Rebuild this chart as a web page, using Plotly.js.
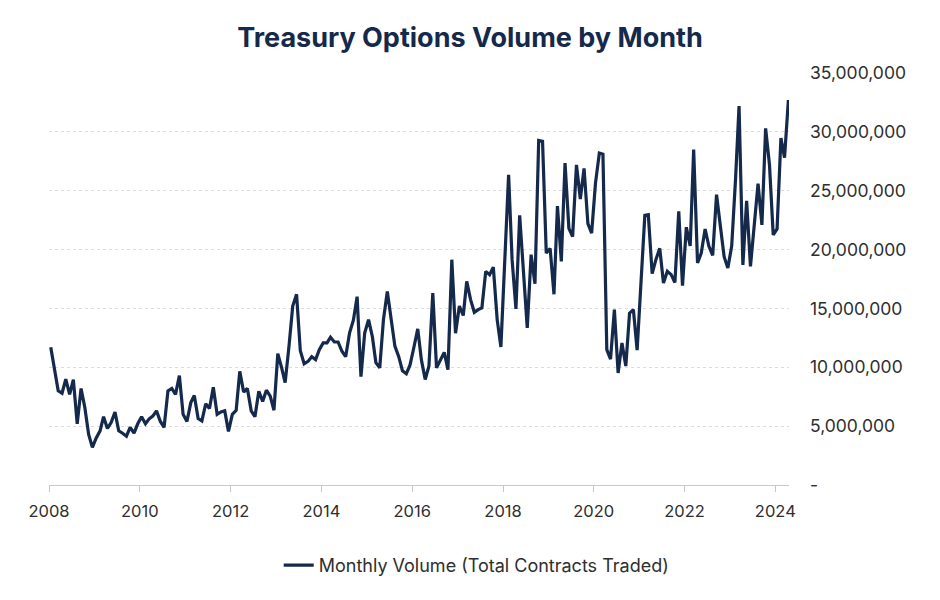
<!DOCTYPE html>
<html>
<head>
<meta charset="utf-8">
<script src="https://cdn.plot.ly/plotly-3.0.1.min.js"></script>
<style>
  html, body { margin: 0; padding: 0; background: #ffffff; }
  #chart { width: 940px; height: 600px; }
</style>
</head>
<body>
<div id="chart"></div>
<script>
// Monthly volume, Jan 2008 .. Apr 2024 (millions of contracts)
const startYear = 2008;
const volumeMillions = [
  11.7, 9.6, 8.0, 7.8, 9.0, 7.7, 8.95, 5.2, 8.2, 6.6, 4.3, 3.2,
  4.0, 4.6, 5.8, 4.8, 5.3, 6.2, 4.6, 4.4, 4.15, 4.9, 4.4, 5.2,
  5.8, 5.2, 5.6, 5.85, 6.3, 5.4, 4.9, 8.0, 8.2, 7.7, 9.3, 6.0,
  5.4, 7.0, 7.6, 5.65, 5.45, 6.9, 6.5, 8.3, 6.0, 6.2, 6.3, 4.55,
  6.0, 6.35, 9.66, 7.9, 8.2, 6.3, 5.8, 7.96, 7.1, 8.05, 7.55, 6.35,
  11.16, 9.95, 8.7, 11.8, 15.2, 16.2, 11.4, 10.3, 10.5, 10.9, 10.65, 11.5,
  12.07, 12.07, 12.55, 12.15, 12.15, 11.36, 10.9, 12.9, 14.0, 16.0, 9.2, 12.9,
  14.05, 12.6, 10.4, 9.95, 14.05, 16.45, 13.9, 11.8, 10.9, 9.7, 9.45, 10.2,
  11.7, 13.26, 10.65, 8.96, 10.1, 16.3, 9.95, 10.65, 11.27, 9.8, 19.14, 12.9,
  15.2, 14.4, 17.3, 15.75, 14.67, 14.9, 15.04, 18.15, 17.87, 18.5, 14.05, 11.73,
  19.5, 26.35, 19.14, 14.96, 22.9, 18.2, 13.35, 19.57, 17.1, 29.27, 29.2, 19.7,
  20.1, 16.2, 23.7, 19.0, 27.35, 21.8, 21.1, 27.2, 24.3, 26.9, 22.2, 21.4,
  25.65, 28.2, 28.1, 11.5, 10.7, 14.9, 9.52, 12.07, 10.1, 14.6, 14.9, 11.45,
  17.0, 22.9, 22.96, 17.95, 19.14, 20.1, 17.16, 18.15, 17.87, 17.2, 23.24, 16.94,
  21.9, 20.3, 28.5, 18.86, 19.7, 21.75, 20.3, 19.5, 24.66, 21.97, 19.4, 18.44,
  20.3, 26.0, 32.2, 18.7, 24.15, 18.57, 21.97, 25.6, 22.1, 30.3, 27.2, 21.25,
  21.75, 29.47, 27.8, 32.7
];

const yTickVals = [0, 5000000, 10000000, 15000000, 20000000, 25000000, 30000000, 35000000];
const yTickText = ['-', '5,000,000', '10,000,000', '15,000,000', '20,000,000', '25,000,000', '30,000,000', '35,000,000'];
const xTickVals = ['2008-01-01', '2010-01-01', '2012-01-01', '2014-01-01', '2016-01-01', '2018-01-01', '2020-01-01', '2022-01-01', '2024-01-01'];
const xTickText = ['2008', '2010', '2012', '2014', '2016', '2018', '2020', '2022', '2024'];

const months = volumeMillions.map((_, i) => {
  const y = startYear + Math.floor(i / 12);
  const m = String(i % 12 + 1).padStart(2, '0');
  return y + '-' + m + '-15';
});
const volumes = volumeMillions.map(v => v * 1e6);

const navy = '#14294b';
const textColor = '#2e2e2e';
const fontFamily = 'Inter, "Open Sans", sans-serif';

const trace = {
  type: 'scatter',
  mode: 'lines',
  x: months,
  y: volumes,
  name: 'Monthly Volume (Total Contracts Traded)',
  line: { color: navy, width: 3.2 },
  hoverinfo: 'x+y'
};

const layout = {
  width: 940,
  height: 600,
  paper_bgcolor: '#ffffff',
  plot_bgcolor: '#ffffff',
  margin: { l: 49, r: 151, t: 73, b: 115 },
  font: { family: fontFamily, color: textColor, size: 16 },
  title: {
    text: '<b>Treasury Options Volume by Month</b>',
    x: 0.5, xref: 'container', xanchor: 'center',
    y: 0.938, yref: 'container', yanchor: 'middle',
    font: { family: fontFamily, size: 27, color: navy }
  },
  xaxis: {
    type: 'date',
    range: ['2008-01-01', '2024-04-20'],
    tickvals: xTickVals,
    ticktext: xTickText,
    ticks: 'outside',
    ticklen: 6,
    tickcolor: '#c8c8c8',
    showline: true,
    linecolor: '#c8c8c8',
    linewidth: 1,
    showgrid: false,
    zeroline: false,
    ticklabelstandoff: 5,
    tickfont: { size: 16.5, color: textColor }
  },
  yaxis: {
    side: 'right',
    range: [0, 35000000],
    tickvals: yTickVals,
    ticktext: yTickText,
    showgrid: true,
    gridcolor: '#dcdcdc',
    griddash: 'dot',
    gridwidth: 1,
    zeroline: false,
    showline: false,
    ticks: '',
    ticklabelstandoff: 20,
    tickfont: { size: 17.5, color: textColor }
  },
  showlegend: true,
  legend: {
    orientation: 'h',
    x: 0.578, xanchor: 'center',
    y: -0.195, yanchor: 'middle',
    font: { size: 18, color: textColor },
    bgcolor: 'rgba(0,0,0,0)'
  }
};

Plotly.newPlot('chart', [trace], layout, { displayModeBar: false, staticPlot: true });
</script>
</body>
</html>
